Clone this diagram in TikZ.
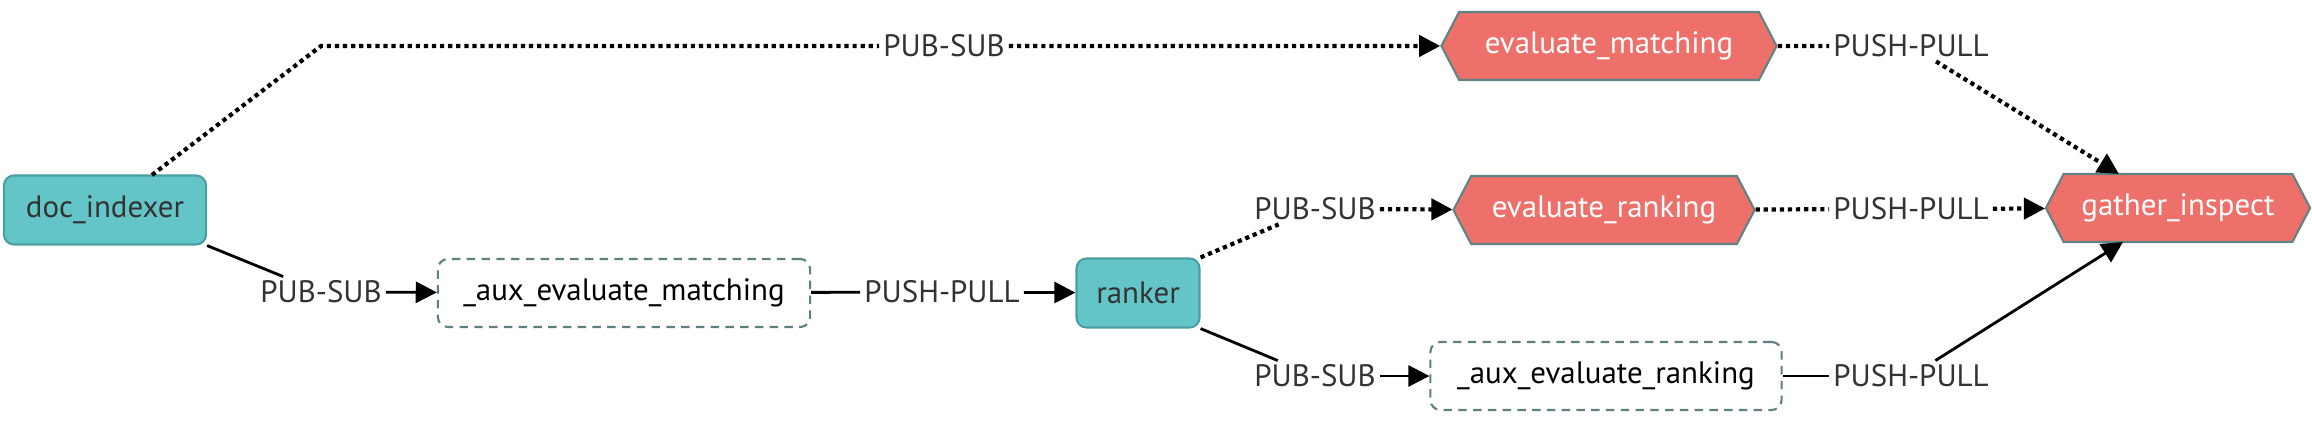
\documentclass[tikz,border=0pt]{standalone}
\usepackage{fontspec}
\setmainfont{PT Sans}
\usetikzlibrary{arrows.meta}
\usetikzlibrary{shapes.symbols}
\definecolor{tealfill}{HTML}{64C5C9}
\definecolor{tealline}{HTML}{4A9FA3}
\definecolor{redfill}{HTML}{ED706B}
\definecolor{redline}{HTML}{5E8584}
\definecolor{auxline}{HTML}{5E7F7F}
\definecolor{txtgray}{HTML}{333333}
\tikzset{podbox/.style = {draw=tealline, fill=tealfill, rounded corners=0.1cm,
                          line width=0.6pt, minimum height=0.69cm, text=txtgray},
         auxbox/.style = {draw=auxline, dash pattern=on 2.4pt off 1.8pt, rounded corners=0.1cm,
                          line width=0.6pt, minimum height=0.68cm, text=black},
         evalhex/.style = {signal, signal to=west and east, signal pointer angle=125,
                           draw=redline, fill=redfill, line width=0.6pt,
                           minimum height=0.68cm, text=white},
         lbl/.style = {fill=white, inner sep=1pt, text=txtgray},
         solidconn/.style = {line width=0.8pt},
         dotconn/.style = {line width=1.2pt, dash pattern=on 1.2pt off 1.1pt},
         arrowend/.style = {-{Triangle[length=6pt,width=6pt]}, color=black}}

\begin{document}
\begin{tikzpicture}[x=0.01cm, y=-0.01cm, font=\fontsize{8.8pt}{10pt}\selectfont]
      \useasboundingbox (0, 0) rectangle (2312, 425);

      % pods
      \node [podbox, minimum width=2.02cm] (doc_indexer) at (105, 210) {doc\_indexer};
      \node [auxbox, minimum width=3.72cm] (aux_matching) at (624, 293) {\_aux\_evaluate\_matching};
      \node [podbox, minimum width=1.23cm] (ranker) at (1138, 293) {ranker};
      \node [auxbox, minimum width=3.51cm] (aux_ranking) at (1606, 376) {\_aux\_evaluate\_ranking};
      \node [evalhex, minimum width=3.35cm] (evaluate_matching) at (1609, 46) {evaluate\_matching};
      \node [evalhex, minimum width=3.01cm] (evaluate_ranking) at (1604, 210) {evaluate\_ranking};
      \node [evalhex, minimum width=2.64cm] (gather_inspect) at (2178, 208) {gather\_inspect};

      % edge labels
      \node [lbl] (ps_top) at (944, 46) {PUB-SUB};
      \node [lbl] (ps_left) at (321, 292) {PUB-SUB};
      \node [lbl] (pp_left) at (942, 292) {PUSH-PULL};
      \node [lbl] (ps_mid) at (1315, 209) {PUB-SUB};
      \node [lbl] (ps_low) at (1315, 376) {PUB-SUB};
      \node [lbl] (pp_top) at (1911, 46) {PUSH-PULL};
      \node [lbl] (pp_mid) at (1911, 209) {PUSH-PULL};
      \node [lbl] (pp_low) at (1911, 376) {PUSH-PULL};

      \coordinate (bend_top) at (321, 46);
      \coordinate (doc_out) at (152, 175);
      \coordinate (gather_in_top) at (2119, 174);
      \coordinate (gather_in_low) at (2123, 242);

      % connectors
      \draw [dotconn] (doc_out) -- (bend_top) -- (ps_top);
      \draw [dotconn, arrowend] (ps_top) -- (evaluate_matching);
      \draw [solidconn] (doc_indexer.south east) -- (ps_left);
      \draw [solidconn, arrowend] (ps_left) -- (aux_matching);
      \draw [solidconn] (aux_matching) -- (pp_left);
      \draw [solidconn, arrowend] (pp_left) -- (ranker);
      \draw [dotconn] (ranker.north east) -- (ps_mid);
      \draw [dotconn, arrowend] (ps_mid) -- (evaluate_ranking);
      \draw [solidconn] (ranker.south east) -- (ps_low);
      \draw [solidconn, arrowend] (ps_low) -- (aux_ranking);
      \draw [dotconn] (evaluate_matching) -- (pp_top);
      \draw [dotconn, arrowend] (pp_top) -- (gather_in_top);
      \draw [dotconn] (evaluate_ranking) -- (pp_mid);
      \draw [dotconn, arrowend] (pp_mid) -- (gather_inspect);
      \draw [solidconn] (aux_ranking) -- (pp_low);
      \draw [solidconn, arrowend] (pp_low) -- (gather_in_low);
    \end{tikzpicture}
\end{document}
